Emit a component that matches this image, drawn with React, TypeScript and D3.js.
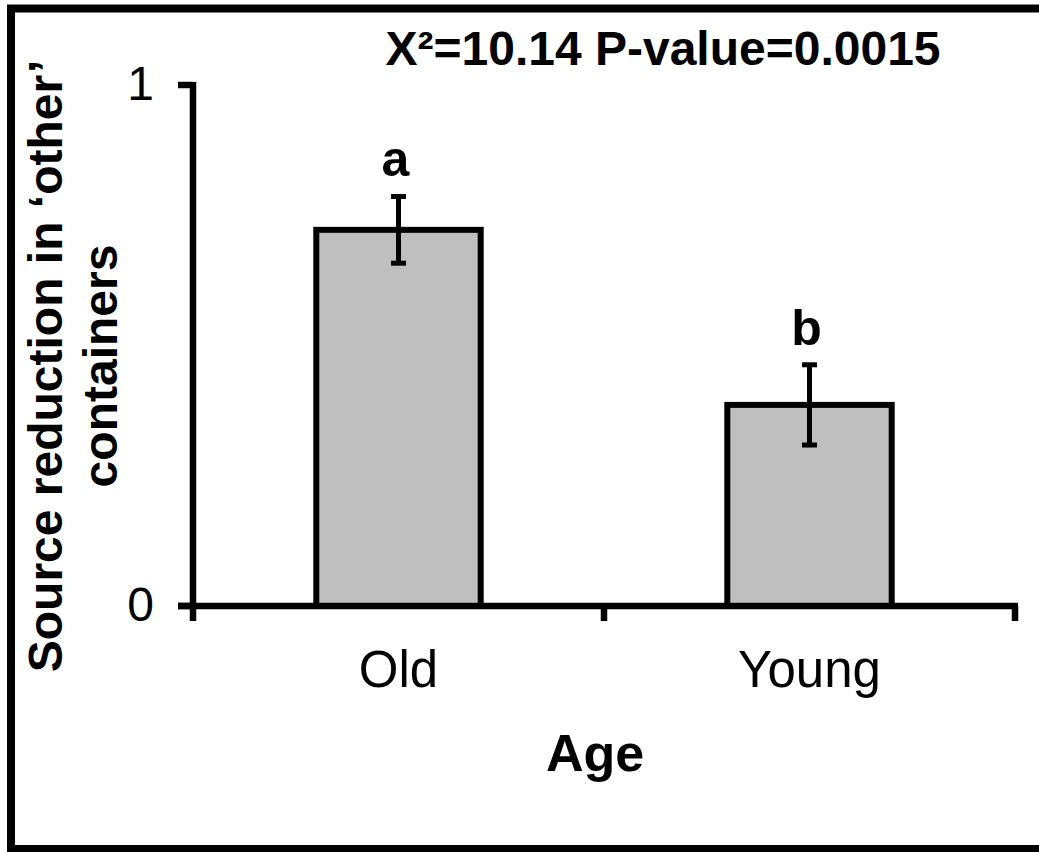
import React from "react";
import * as d3 from "d3";

const categories = ["Old", "Young"];
const means = [0.722, 0.386];
const errors = [0.064, 0.077];
const letters = ["a", "b"];
const yTicks = [0, 1];
const titleText = "X\u00B2=10.14 P-value=0.0015";
const yLabelLines = ["Source reduction in \u2018other\u2019", "containers"];
const xLabel = "Age";

const W = 1039;
const H = 852;
const FONT = "'Liberation Sans', Arial, Helvetica, sans-serif";

export default function App() {
  const y = d3.scaleLinear().domain([0, 1]).range([606, 85]);
  const x = d3.scaleBand<string>().domain(categories).range([193, 1015]).paddingInner(0).paddingOuter(0);
  const bw = x.bandwidth() * 0.4;
  const xEdges = [...categories.map((c) => x(c) as number), 1015];

  return (
    <svg
      width={W}
      height={H}
      style={{ position: "absolute", left: 0, top: 0, background: "#fff" }}
      fontFamily={FONT}
    >
      <rect x={0} y={0} width={W} height={H} fill="#fff" />
      {/* frame */}
      <rect x={11} y={8.5} width={1200} height={840.5} fill="none" stroke="#000" strokeWidth={8} />

      {/* title */}
      <text x={663} y={65} textAnchor="middle" fontSize={48} fontWeight="bold">
        {titleText}
      </text>

      {/* bars */}
      {categories.map((c, i) => {
        const cx = (x(c) as number) + x.bandwidth() / 2;
        return (
          <rect
            key={c}
            x={cx - bw / 2}
            y={y(means[i])}
            width={bw}
            height={y(0) - y(means[i])}
            fill="#bfbfbf"
            stroke="#000"
            strokeWidth={6}
          />
        );
      })}

      {/* error bars */}
      {categories.map((c, i) => {
        const cx = (x(c) as number) + x.bandwidth() / 2;
        const hi = y(means[i] + errors[i]);
        const lo = y(means[i] - errors[i]);
        return (
          <g key={c} stroke="#000" strokeWidth={5}>
            <line x1={cx} x2={cx} y1={hi} y2={lo} />
            <line x1={cx - 7.5} x2={cx + 7.5} y1={hi} y2={hi} />
            <line x1={cx - 7.5} x2={cx + 7.5} y1={lo} y2={lo} />
          </g>
        );
      })}

      {/* significance letters */}
      {categories.map((c, i) => {
        const cx = (x(c) as number) + x.bandwidth() / 2;
        return (
          <text key={c} x={cx - 3} y={y(means[i] + errors[i]) - 20} textAnchor="middle" fontSize={50} fontWeight="bold">
            {letters[i]}
          </text>
        );
      })}

      {/* y axis */}
      <line x1={193} x2={193} y1={y(1) - 3} y2={y(0)} stroke="#000" strokeWidth={6.5} />
      {yTicks.map((t) => (
        <g key={t}>
          <line x1={178} x2={193} y1={y(t)} y2={y(t)} stroke="#000" strokeWidth={6.5} />
          <text x={154} y={y(t) + 15} textAnchor="end" fontSize={48}>
            {t}
          </text>
        </g>
      ))}

      {/* x axis */}
      <line x1={178} x2={1018} y1={y(0)} y2={y(0)} stroke="#000" strokeWidth={6.5} />
      {xEdges.map((ex, i) => (
        <line key={i} x1={ex} x2={ex} y1={y(0)} y2={y(0) + 15} stroke="#000" strokeWidth={6.5} />
      ))}
      {categories.map((c) => (
        <text key={c} x={(x(c) as number) + x.bandwidth() / 2} y={687} textAnchor="middle" fontSize={51}>
          {c}
        </text>
      ))}

      {/* axis titles */}
      <text x={595} y={771} textAnchor="middle" fontSize={52} fontWeight="bold">
        {xLabel}
      </text>
      <g transform="translate(0,366) rotate(-90)">
        {yLabelLines.map((l, i) => (
          <text key={i} x={0} y={62 + i * 55} textAnchor="middle" fontSize={48} fontWeight="bold">
            {l}
          </text>
        ))}
      </g>
    </svg>
  );
}
